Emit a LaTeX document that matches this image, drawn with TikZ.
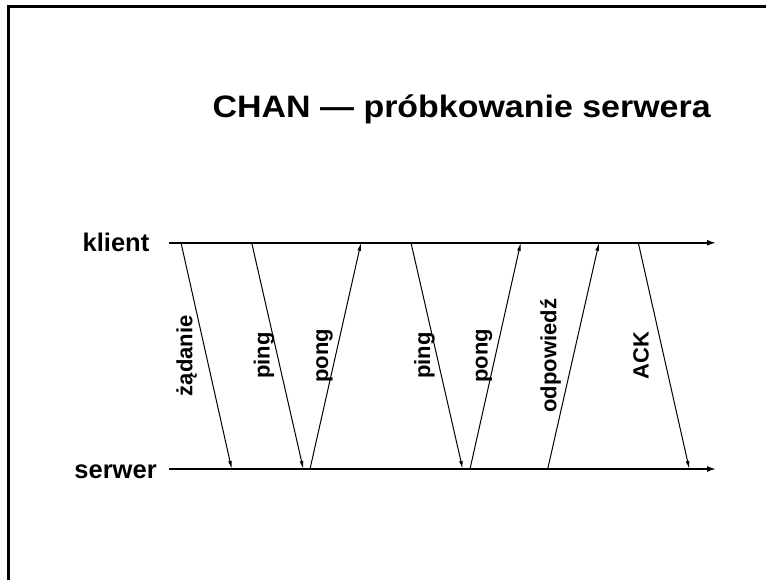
\documentclass[tikz,border=0pt]{standalone}
\usepackage{fontspec}
\setmainfont{Liberation Sans}
\usetikzlibrary{arrows.meta}
\tikzset{
  timeline/.style={line width=1.6pt, -{Latex[length=9pt,width=6pt]}},
  msg/.style={line width=1pt, -{Latex[length=8pt,width=3.8pt]}},
  lbl/.style={font=\bfseries\fontsize{22}{26}\selectfont, rotate=90, anchor=base, inner sep=0pt},
  side/.style={font=\bfseries\fontsize{25.5}{30}\selectfont, anchor=base east, inner sep=0pt},
}
\begin{document}
\begin{tikzpicture}[x=1pt,y=1pt]
\useasboundingbox (0,0) rectangle (766,580);
% frame
\draw[line width=2.7pt] (8.7,-5) -- (8.7,573.3) -- (775,573.3);
% title
\node[anchor=base west, inner sep=0pt, font=\bfseries\fontsize{31}{37}\selectfont] (title) at (212.5,462.7) {\scalebox{1.095}[1]{CHAN — próbkowanie serwera}};
% side labels
\node[side] (klient) at (149.5,328.3) {klient};
\node[side] (serwer) at (156.9,101.7) {serwer};
% timelines
\coordinate (ks) at (168.5,337.2);
\coordinate (ke) at (716,337.2);
\coordinate (ss) at (168.5,111);
\coordinate (se) at (716,111);
\draw[timeline] (ks) -- (ke);
\draw[timeline] (ss) -- (se);
% message end points
\coordinate (t1) at (181,337.2);   \coordinate (b1) at (231.7,111);
\coordinate (t2) at (251.7,337.2); \coordinate (b2) at (303.3,111);
\coordinate (t3) at (361,337.2);   \coordinate (b3) at (310,111);
\coordinate (t4) at (411,337.2);   \coordinate (b4) at (462.7,111);
\coordinate (t5) at (520.7,337.2); \coordinate (b5) at (470,111);
\coordinate (t6) at (599,337.2);   \coordinate (b6) at (547.7,111);
\coordinate (t7) at (638.3,337.2); \coordinate (b7) at (689.3,111);
\draw[msg] (t1) -- (b1);
\draw[msg] (t2) -- (b2);
\draw[msg] (b3) -- (t3);
\draw[msg] (t4) -- (b4);
\draw[msg] (b5) -- (t5);
\draw[msg] (b6) -- (t6);
\draw[msg] (t7) -- (b7);
% message labels
\node[lbl] (l1) at (192.3,224.3) {żądanie};
\node[lbl] (l2) at (269.5,224.3) {ping};
\node[lbl] (l3) at (328,224.3) {pong};
\node[lbl] (l4) at (430,224.3) {ping};
\node[lbl] (l5) at (487.5,224.3) {pong};
\node[lbl] (l6) at (556.3,224.3) {odpowiedź};
\node[lbl] (l7) at (648.5,224.3) {ACK};
\end{tikzpicture}
\end{document}
